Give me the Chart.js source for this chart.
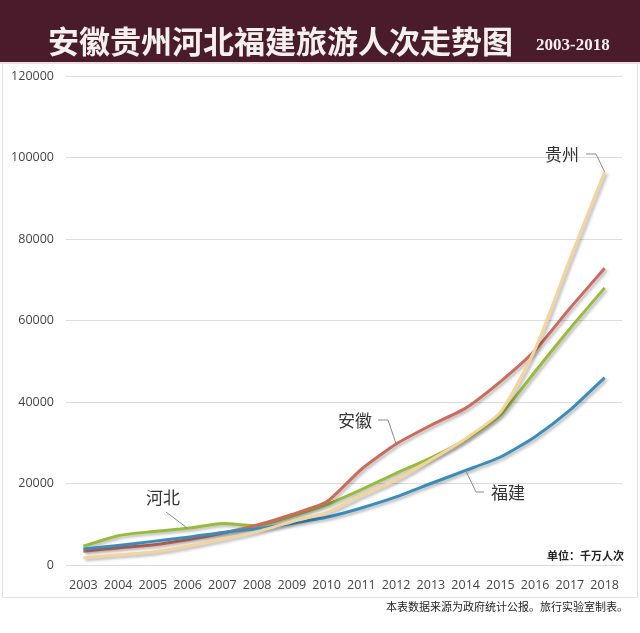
<!DOCTYPE html>
<html lang="zh">
<head>
<meta charset="UTF-8" />
<title>安徽贵州河北福建旅游人次走势图</title>
<script src="https://cdn.jsdelivr.net/npm/chart.js"></script>
<style>
  html, body { margin: 0; padding: 0; background: #fff; }
  #wrap { width: 640px; height: 633px; }
</style>
</head>
<body>
<div id="wrap"><canvas id="trend" width="640" height="633"></canvas></div>
<script>
// 年份与各省旅游人次（万人次，读图估计）
const years = ["2003","2004","2005","2006","2007","2008","2009","2010","2011","2012","2013","2014","2015","2016","2017","2018"];
const guizhou = [1800, 2500, 3200, 4600, 6300, 8200, 10600, 12900, 17000, 20900, 25800, 31000, 37500, 53000, 75000, 96500];
const fujian  = [3900, 4800, 5800, 6800, 8000, 8900, 10200, 11700, 14000, 16700, 20000, 23200, 26500, 31500, 38000, 46000];
const anhui   = [3400, 4200, 4900, 6200, 7800, 9800, 12400, 15500, 23500, 29700, 34300, 38500, 45000, 52700, 63000, 72800];
const hebei   = [4600, 7200, 8200, 9000, 10200, 9700, 12000, 14800, 18500, 22500, 26300, 30800, 36800, 47500, 58000, 68000];
const yTicks  = [0, 20000, 40000, 60000, 80000, 100000, 120000];

// 标注：文字、位置、引线连到哪条线的哪一年
const notes = [
  { text: "贵州", ds: 0, idx: 15, x: 562, y: 155, path: [[586, 154], [596, 154]] },
  { text: "福建", ds: 1, idx: 11, x: 508, y: 493, path: [[484, 492], [476, 492]] },
  { text: "安徽", ds: 2, idx: 9, x: 355, y: 421, path: [[378, 420], [388, 420]] },
  { text: "河北", ds: 3, idx: 3, x: 163, y: 498, path: [[166, 512]] }
];

const cjk = '"Noto Sans CJK SC", "Noto Sans", sans-serif';

const decor = {
  id: "decor",
  beforeDraw(chart) {
    const c = chart.ctx;
    c.save();
    c.fillStyle = "#fff";
    c.fillRect(0, 0, chart.width, chart.height);
    // 外框
    c.strokeStyle = "#e2e2e2";
    c.lineWidth = 1;
    c.beginPath();
    c.moveTo(2.5, 62); c.lineTo(2.5, 597.5); c.lineTo(637.5, 597.5); c.lineTo(637.5, 62);
    c.stroke();
    // 标题栏
    c.fillStyle = "#4a1b2b";
    c.fillRect(0, 0, chart.width, 62);
    c.fillStyle = "#e9dfe2";
    c.fillRect(0, 62, chart.width, 2);
    c.fillStyle = "#f4f0f0";
    c.textBaseline = "middle";
    c.textAlign = "left";
    c.font = "bold 31px " + cjk;
    c.fillText("安徽贵州河北福建旅游人次走势图", 48, 41);
    c.font = "bold 17px 'Liberation Serif', 'DejaVu Serif', serif";
    c.fillText("2003-2018", 536, 46);
    c.restore();
  },
  beforeDatasetDraw(chart) {
    const c = chart.ctx;
    c.save();
    c.shadowColor = "rgba(0,0,0,0.28)";
    c.shadowBlur = 3;
    c.shadowOffsetX = 2;
    c.shadowOffsetY = 2;
  },
  afterDatasetDraw(chart) {
    chart.ctx.restore();
  },
  afterDraw(chart) {
    const c = chart.ctx;
    c.save();
    // 引线与省名
    notes.forEach(n => {
      const pt = chart.getDatasetMeta(n.ds).data[n.idx];
      c.strokeStyle = "#8a8a8a";
      c.lineWidth = 1;
      c.beginPath();
      c.moveTo(n.path[0][0], n.path[0][1]);
      n.path.slice(1).forEach(p => c.lineTo(p[0], p[1]));
      c.lineTo(pt.x, pt.y);
      c.stroke();
      c.fillStyle = "#333";
      c.font = "17px " + cjk;
      c.textAlign = "center";
      c.textBaseline = "middle";
      c.fillText(n.text, n.x, n.y);
    });
    c.fillStyle = "#222";
    c.textAlign = "right";
    c.textBaseline = "middle";
    c.font = "bold 11px " + cjk;
    c.fillText("单位：千万人次", 624, 556);
    c.font = "11px " + cjk;
    c.fillText("本表数据来源为政府统计公报。旅行实验室制表。", 628, 607);
    c.restore();
  }
};

new Chart(document.getElementById("trend"), {
  type: "line",
  data: {
    labels: years,
    datasets: [
      { label: "贵州", data: guizhou, borderColor: "#f5d39d" },
      { label: "福建", data: fujian, borderColor: "#3b8cbb" },
      { label: "安徽", data: anhui, borderColor: "#cc6a5b" },
      { label: "河北", data: hebei, borderColor: "#98bb3b" }
    ].map(d => Object.assign(d, { borderWidth: 3, pointRadius: 0, tension: 0.2, fill: false }))
  },
  options: {
    responsive: false,
    animation: false,
    layout: { padding: { top: 76, left: 10, right: 18, bottom: 38 } },
    plugins: { legend: { display: false }, tooltip: { enabled: false } },
    scales: {
      x: {
        offset: true,
        grid: { display: false },
        border: { display: false },
        ticks: { color: "#444", font: { family: "'Open Sans', sans-serif", size: 12.5 }, padding: 5, maxRotation: 0, autoSkip: false },
        afterFit: s => { s.height = 30; }
      },
      y: {
        min: 0,
        max: 120000,
        afterBuildTicks: s => { s.ticks = yTicks.map(v => ({ value: v })); },
        grid: { color: "#dcdcdc", drawTicks: false },
        border: { display: false },
        ticks: { color: "#444", font: { family: "'Open Sans', sans-serif", size: 12.5 }, padding: 12, callback: v => String(v) },
        afterFit: s => { s.width = 56; }
      }
    }
  },
  plugins: [decor]
});
</script>
</body>
</html>
